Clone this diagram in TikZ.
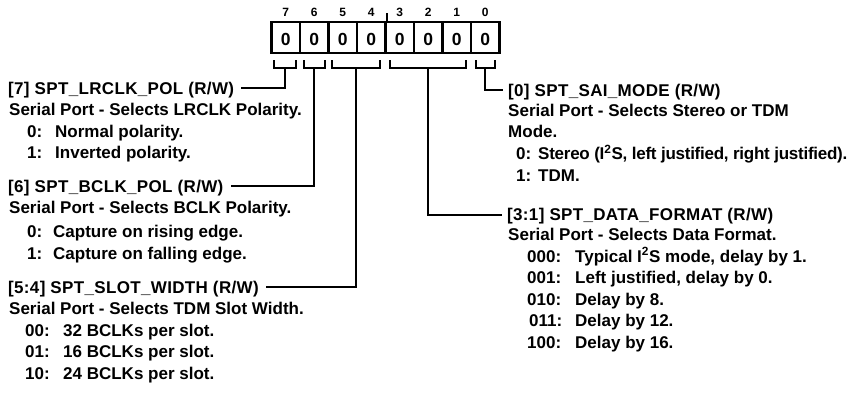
\documentclass[tikz,border=0pt]{standalone}
\usepackage{fontspec}
\setmainfont{Liberation Sans}
\usetikzlibrary{calc}
\begin{document}
\begin{tikzpicture}[x=1pt,y=-1pt,
  txt/.style={anchor=west, inner sep=0pt, font=\fontsize{17}{20}\selectfont\bfseries, text height=12.2pt, text depth=0pt},
  head/.style={txt, font=\fontsize{17}{20}\selectfont\bfseries\addfontfeature{LetterSpace=2}},
  tight/.style={txt, font=\fontsize{17}{20}\selectfont\bfseries\addfontfeature{LetterSpace=-1.5}},
  cell/.style={draw, line width=2.5pt, minimum width=28.5pt, minimum height=31pt, inner sep=0pt,
     font=\fontsize{17.5}{20}\selectfont\bfseries, text height=16.5pt, text depth=0pt},
  bitno/.style={inner sep=0pt, font=\fontsize{12}{13}\selectfont\bfseries, text height=8.6pt, text depth=0pt},
  conn/.style={line width=2pt},
  brk/.style={line width=2pt}]
\useasboundingbox (0,0) rectangle (866,397);
% register cells
\foreach \b/\k in {7/0,6/1,5/2,4/3,3/4,2/5,1/6,0/7}{
  \node[cell] (c\b) at ({271.5+28.5*\k+14.25},37.5) {0};
  \node[bitno] (n\b) at ({271.5+28.5*\k+14.25},12) {\b};
}
\draw[line width=2.2pt] (c4.north east) -- ($(c4.north east)+(0,-8)$);
% bracket coordinates
\coordinate (l7) at ($(c7.south west)+(4,6)$);  \coordinate (r7) at ($(c7.south east)+(-5,6)$);
\coordinate (l6) at ($(c6.south west)+(5,6)$);  \coordinate (r6) at ($(c6.south east)+(-5,6)$);
\coordinate (l54) at ($(c5.south west)+(5,6)$); \coordinate (r54) at ($(c4.south east)+(-7,6)$);
\coordinate (l31) at ($(c3.south west)+(6,6)$); \coordinate (r31) at ($(c1.south east)+(-6,6)$);
\coordinate (l0) at ($(c0.south west)+(6,6)$);  \coordinate (r0) at ($(c0.south east)+(-6,6)$);
\foreach \g in {7,6,54,31,0}{
  \draw[brk] (l\g) -- ++(0,8) -| (r\g);
  \coordinate (m\g) at ($(l\g)!0.5!(r\g)+(0,8)$);
}
% left texts
\node[head] (h7) at (8,88) {[7] SPT\_LRCLK\_POL (R/W)};
\node[txt] (s7) at (9,109.5) {Serial Port - Selects LRCLK Polarity.};
\node[txt] (a70) at (27,131) {0:};
\node[txt] (b70) at (55,131) {Normal polarity.};
\node[txt] (a71) at (27,152.5) {1:};
\node[txt] (b71) at (55,152.5) {Inverted polarity.};

\node[head] (h6) at (8,186) {[6] SPT\_BCLK\_POL (R/W)};
\node[txt] (s6) at (9,207.5) {Serial Port - Selects BCLK Polarity.};
\node[txt] (a60) at (27,231) {0:};
\node[txt] (b60) at (53,231) {Capture on rising edge.};
\node[txt] (a61) at (27,253) {1:};
\node[txt] (b61) at (53,253) {Capture on falling edge.};

\node[head] (h54) at (8,287) {[5:4] SPT\_SLOT\_WIDTH (R/W)};
\node[txt] (s54) at (9,308.5) {Serial Port - Selects TDM Slot Width.};
\node[txt] (a540) at (25,330) {00:};
\node[txt] (b540) at (63,330) {32 BCLKs per slot.};
\node[txt] (a541) at (25,351.5) {01:};
\node[txt] (b541) at (63,351.5) {16 BCLKs per slot.};
\node[txt] (a542) at (25,373) {10:};
\node[txt] (b542) at (63,373) {24 BCLKs per slot.};

% right texts
\node[head] (h0) at (508,90) {[0] SPT\_SAI\_MODE (R/W)};
\node[txt] (s0) at (508,110.5) {Serial Port - Selects Stereo or TDM};
\node[txt] (s0b) at (508,131) {Mode.};
\node[txt] (a00) at (516,153.5) {0:};
\node[tight] (b00) at (538,153.5) {Stereo (I\textsuperscript{2}S, left justified, right justified).};
\node[txt] (a01) at (516,175.5) {1:};
\node[txt] (b01) at (538,175.5) {TDM.};

\node[head] (h31) at (507,214.5) {[3:1] SPT\_DATA\_FORMAT (R/W)};
\node[txt] (s31) at (508,234.5) {Serial Port - Selects Data Format.};
\node[txt] (a310) at (527,256) {000:};
\node[txt] (b310) at (575,256) {Typical I\textsuperscript{2}S mode, delay by 1.};
\node[txt] (a311) at (527,277.5) {001:};
\node[txt] (b311) at (575,277.5) {Left justified, delay by 0.};
\node[txt] (a312) at (527,299) {010:};
\node[txt] (b312) at (575,299) {Delay by 8.};
\node[txt] (a313) at (529,320.5) {011:};
\node[txt] (b313) at (575,320.5) {Delay by 12.};
\node[txt] (a314) at (527,342) {100:};
\node[txt] (b314) at (575,342) {Delay by 16.};

% connector free ends
\coordinate (e7) at ($(h7.east)+(7,0)$);
\coordinate (e6) at ($(h6.east)+(7,0)$);
\coordinate (e54) at ($(h54.east)+(7,0)$);
\coordinate (e0) at ($(h0.west)+(-5,0)$);
\coordinate (e31) at ($(h31.west)+(-5,0)$);
\draw[conn] (m7) |- (e7);
\draw[conn] (m6) |- (e6);
\draw[conn] (m54) |- (e54);
\draw[conn] (m0) |- (e0);
\draw[conn] (m31) |- (e31);
\end{tikzpicture}
\end{document}
